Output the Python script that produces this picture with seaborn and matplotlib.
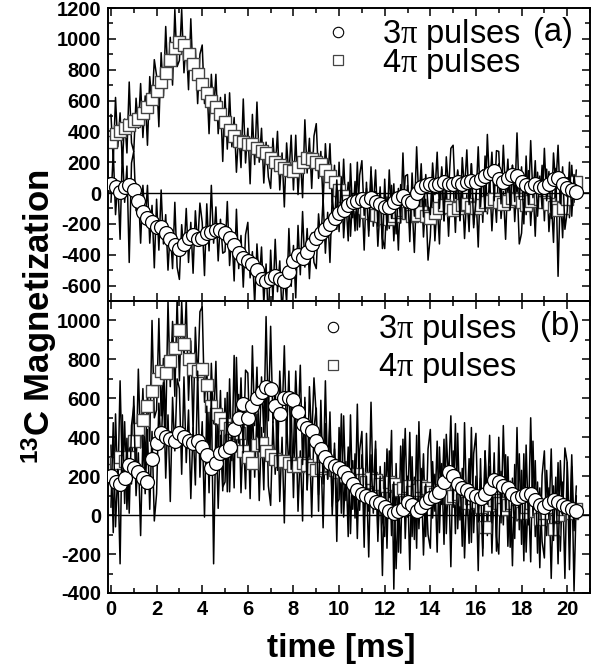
import numpy as np
import matplotlib
matplotlib.use("Agg")
import matplotlib.pyplot as plt
import seaborn as sns
from matplotlib.ticker import MultipleLocator

# ---------------- data ----------------
MARK_STEP = 0.2   # ms between plotted symbols
RAW_STEP = 0.1    # ms between raw samples

# panel (a) symbols
sq_a = [330, 380, 400, 420, 440, 470, 480, 520, 560, 610,
        660, 720, 780, 860, 940, 980, 960, 900, 840, 770,
        710, 650, 600, 560, 510, 460, 410, 370, 340, 330,
        320, 320, 290, 270, 260, 230, 200, 180, 160, 150,
        140, 170, 200, 230, 220, 200, 190, 150, 110, 70,
        20, -20, -50, -70, -80, -100, -120, -130, -140, -150,
        -160, -170, -150, -120, -110, -130, -150, -140, -120, -150,
        -160, -130, -100, -80, -90, -110, -100, -80, -70, -90,
        -100, -80, -60, -50, -40, -60, -70, -50, -30, -40,
        -60, -80, -50, -30, -40, -60, -70, -90, -110, -100,
        -40, 20, 70]
ci_a = [60, 40, 10, 40, 50, 20, -50, -120, -160, -190,
        -220, -220, -260, -300, -340, -360, -330, -290, -270, -300,
        -290, -260, -250, -240, -240, -260, -290, -340, -390, -420,
        -440, -460, -500, -560, -570, -550, -540, -560, -570, -510,
        -440, -400, -420, -380, -330, -290, -260, -230, -200, -160,
        -130, -110, -80, -60, -50, -40, -50, -30, -60, -70,
        -90, -90, -60, -30, -20, -50, -60, 0, 40, 50,
        60, 50, 60, 70, 60, 60, 70, 60, 70, 80,
        70, 90, 110, 130, 140, 90, 70, 100, 120, 110,
        70, 50, 40, 60, 40, 40, 60, 90, 100, 60,
        30, 20, 10]
# panel (b) symbols
sq_b = [230, 270, 300, 280, 300, 380, 440, 490, 560, 640,
        700, 740, 730, 790, 860, 950, 880, 800, 750, 740,
        750, 670, 560, 520, 500, 470, 450, 430, 420, 330,
        300, 270, 360, 370, 330, 310, 290, 280, 280, 270,
        250, 250, 270, 260, 240, 230, 240, 250, 260, 230,
        220, 200, 190, 200, 210, 180, 170, 190, 180, 160,
        150, 170, 160, 130, 140, 150, 120, 130, 150, 140,
        120, 110, 130, 120, 90, 100, 110, 80, 60, 90,
        70, 40, -60, 50, 80, 60, 30, 50, 60, 20,
        10, 40, 60, 20, -20, 10, 40, -70, 0, 30,
        40, 10, 30]
ci_b = [200, 170, 160, 190, 260, 240, 220, 190, 170, 290,
        370, 420, 400, 390, 380, 420, 400, 380, 370, 380,
        350, 310, 240, 270, 320, 330, 350, 440, 500, 570,
        500, 560, 600, 630, 660, 650, 560, 520, 600, 600,
        590, 530, 470, 450, 430, 380, 340, 300, 270, 250,
        240, 220, 190, 160, 130, 110, 100, 90, 70, 60,
        40, 20, 10, 20, 30, 70, 50, 20, 40, 70,
        90, 100, 120, 170, 220, 200, 160, 140, 130, 110,
        100, 90, 110, 140, 180, 170, 150, 140, 110, 90,
        100, 110, 110, 80, 50, 40, 60, 80, 70, 50,
        40, 30, 20]

# raw (noisy) traces
raw_sq_a = [510, 205, 620, 300, 520, 190, 480, 260, 720, 325,
            270, 615, 420, 710, 360, 630, 310, 755, 570, 865,
            760, 430, 910, 630, 1080, 740, 1010, 700, 1190, 820,
            860, 1190, 780, 980, 670, 1130, 740, 935, 580, 900,
            960, 580, 730, 385, 770, 530, 770, 385, 620, 205,
            640, 285, 650, 300, 490, 135, 400, 165, 610, 195,
            420, 60, 510, 185, 590, 200, 420, 65, 330, 105,
            30, 355, 140, 400, 20, 260, -90, 325, 110, 375,
            20, 375, -10, 235, -30, 475, 130, 355, 30, 370,
            450, 95, 270, -70, 320, 80, 320, -60, 180, -235,
            200, -150, 220, -125, 70, -280, -10, -245, 200, -220,
            0, -370, 70, -245, 170, -215, 10, -345, -80, -295,
            -360, -25, -230, 50, -310, -45, -370, 55, -150, 110,
            120, -240, -70, -385, 30, -180, 90, -285, -40, -435,
            -280, 75, -310, -65, -330, 170, -180, 45, -280, 60,
            70, -255, 140, -180, 40, -295, -10, -250, 190, -225,
            0, -350, 110, -190, 240, -135, 100, -245, 30, -190,
            190, -165, 10, -300, 120, -90, 180, -185, 70, -330,
            -260, 70, -140, 145, -210, 50, -280, 135, -80, 180,
            -180, 155, -250, -30, -320, 160, -540, 25, -290, 90,
            100, -160, 180, -60, 150]
raw_ci_a = [-60, 270, -140, 75, -300, 285, -60, 175, -450, 195,
            270, -115, 30, -325, 50, -190, 50, -325, -80, -485,
            -40, -370, 20, -330, -140, -500, -240, -490, -60, -480,
            -560, -205, -390, -100, -450, -190, -520, -115, -340, -65,
            -190, -535, -70, -375, 50, -325, -90, -440, -170, -390,
            -380, -55, -470, -265, -570, -105, -490, -275, -610, -270,
            -190, -550, -380, -720, -330, -580, -350, -715, -460, -840,
            -370, -695, -300, -640, -440, -785, -510, -710, -230, -605,
            -340, -680, -210, -530, -120, -480, -230, -555, -260, -450,
            -490, -135, -320, -35, -390, -125, -450, -10, -200, 85,
            -250, 100, -290, -45, -310, 190, -160, 75, -240, 115,
            210, -145, 30, -280, 140, -95, 150, -215, 40, -360,
            90, -240, 150, -165, 60, -265, 30, -195, 260, -165,
            50, -315, 130, -150, 300, -60, 190, -155, 120, -85,
            -140, 195, -10, 265, -100, 155, -180, 235, 20, 290,
            310, -35, 150, -175, 230, 15, 280, -75, 190, -205,
            -50, 300, -90, 150, -120, 380, 30, 265, -50, 275,
            270, -70, 310, -5, 220, -110, 180, -55, 390, -40,
            170, -200, 240, -75, 340, -30, 210, -150, 110, -100,
            290, -50, 140, -165, 260, 45, 310, -70, 170, -235,
            -120, 200, -150, 120, -30]
raw_sq_b = [360, -90, 520, 125, 690, 190, 480, 30, 390, 160,
            610, 210, 750, 345, 650, 235, 640, 380, 1000, 500,
            540, 1010, 510, 805, 430, 1100, 660, 995, 610, 1115,
            690, 1095, 800, 1110, 590, 895, 430, 965, 690, 1045,
            1070, 580, 770, 305, 780, 470, 790, 310, 640, 125,
            600, 120, 700, 280, 820, 325, 620, 115, 420, 135,
            530, 85, 580, 195, 520, 75, 450, 130, 690, 150,
            50, 480, 210, 555, 70, 400, -40, 495, 220, 560,
            90, 540, 20, 330, -30, 605, 130, 420, -10, 445,
            550, 105, 340, -65, 470, 185, 530, 45, 370, -135,
            450, 10, 510, 75, 350, -95, 280, -15, 570, 25,
            310, -165, 420, 20, 580, 85, 380, -90, 250, -25,
            -110, 340, 90, 435, -380, 265, -190, 355, 90, 445,
            -10, 425, -110, 195, -170, 480, 20, 315, -110, 340,
            440, -15, 210, -190, 350, 55, 390, -95, 230, -265,
            330, -95, 420, -25, 240, -220, 140, -145, 450, -90,
            200, -285, 290, -170, 330, -105, 250, -195, 170, -110,
            -200, 225, -50, 310, -160, 175, -260, 260, -30, 315,
            -150, 315, -190, 120, -240, 380, -110, 170, -270, 205,
            330, -105, 140, -325, 150, -105, 270, -185, 170, -325,
            270, -280, 250, -390, 100]
raw_ci_b = [40, 475, -60, 235, -250, 515, 60, 395, 10, 460,
            560, 100, 320, -105, 410, 110, 440, 30, 430, -30,
            110, 575, 340, 680, 190, 515, 70, 605, 330, 700,
            650, 210, 710, 270, 540, 85, 450, 155, 740, 195,
            480, -10, 560, 115, 630, -250, 470, 35, 410, 145,
            170, 630, 120, 465, 140, 810, 370, 705, 320, 745,
            730, 330, 870, 460, 760, 325, 710, 425, 1020, 485,
            970, 475, 660, 230, 740, 490, 870, 400, 740, 235,
            330, 740, 450, 770, 260, 580, 130, 660, 380, 705,
            510, 20, 590, 160, 690, 185, 470, 0, 340, 65,
            80, 520, -10, 275, -110, 515, 30, 315, -120, 330,
            430, -25, 200, -215, 310, 10, 340, -135, 200, -310,
            270, -170, 330, -105, 170, -275, 100, -195, 390, -120,
            200, -280, 300, -125, 410, -70, 240, -205, 160, -100,
            -170, 275, 20, 380, -90, 265, -150, 415, 170, 510,
            40, 470, -70, 220, -160, 475, 0, 290, -140, 315,
            420, -35, 190, -210, 330, 55, 410, -40, 320, -185,
            400, -40, 460, 25, 300, -165, 190, -120, 450, -75,
            230, -235, 360, -50, 500, -5, 280, -195, 140, -135,
            -220, 230, -20, 340, -130, 195, -250, 280, 0, 345,
            270, -100, 310, -80, 150]

legend_text = "3$\\mathrm{\\pi}$ pulses\n4$\\mathrm{\\pi}$ pulses"
panel_tags = ["(a)", "(b)"]
x_ticks = [0, 2, 4, 6, 8, 10, 12, 14, 16, 18, 20]
y_ticks_a = [-600, -400, -200, 0, 200, 400, 600, 800, 1000, 1200]
y_ticks_b = [-400, -200, 0, 200, 400, 600, 800, 1000]

# ---------------- style ----------------
sns.set_style("ticks")
plt.rcParams["font.family"] = ["Liberation Sans", "DejaVu Sans"]
plt.rcParams["mathtext.fontset"] = "custom"
plt.rcParams["mathtext.rm"] = "Liberation Serif"
plt.rcParams["mathtext.it"] = "Liberation Serif:italic"
plt.rcParams["mathtext.bf"] = "Liberation Sans:bold"
for key in ["text.color", "axes.labelcolor", "xtick.color", "ytick.color",
            "axes.edgecolor"]:
    plt.rcParams[key] = "black"

fig = plt.figure(figsize=(6.05, 6.70), dpi=100)
L, W = 108 / 605, 482 / 605
ax_a = fig.add_axes([L, (670 - 301) / 670, W, 293 / 670])
ax_b = fig.add_axes([L, (670 - 593) / 670, W, 292 / 670])

SQ_EDGE = "#444444"


def draw_panel(ax, raw_sq, raw_ci, sq, ci):
    t_raw_sq = np.arange(len(raw_sq)) * RAW_STEP
    t_raw_ci = np.arange(len(raw_ci)) * RAW_STEP
    t_sq = np.arange(len(sq)) * MARK_STEP
    t_ci = np.arange(len(ci)) * MARK_STEP
    ax.axhline(0, color="black", linewidth=1.0, zorder=0.5)
    sns.lineplot(x=t_raw_sq, y=raw_sq, ax=ax, color="black", linewidth=1.1,
                 estimator=None, sort=False, zorder=1)
    sns.scatterplot(x=t_sq, y=sq, ax=ax, marker="s", s=72, color="white",
                    edgecolor=SQ_EDGE, linewidth=1.0, zorder=2, legend=False)
    sns.lineplot(x=t_raw_ci, y=raw_ci, ax=ax, color="black", linewidth=1.1,
                 estimator=None, sort=False, zorder=2.5)
    sns.scatterplot(x=t_ci, y=ci, ax=ax, marker="o", s=100, color="white",
                    edgecolor="black", linewidth=0.9, zorder=3, legend=False)


draw_panel(ax_a, raw_sq_a, raw_ci_a, sq_a, ci_a)
draw_panel(ax_b, raw_sq_b, raw_ci_b, sq_b, ci_b)

for ax, yt, lim in [(ax_a, y_ticks_a, (-700, 1200)), (ax_b, y_ticks_b, (-400, 1100))]:
    ax.set_xlim(-0.13, 21.0)
    ax.set_ylim(*lim)
    ax.set_xticks(x_ticks, labels=[str(v) for v in x_ticks],
                  fontsize=14.5, fontweight="bold")
    ax.set_yticks(yt, labels=[str(v) for v in yt], fontsize=14.5, fontweight="bold")
    ax.xaxis.set_minor_locator(MultipleLocator(1))
    ax.yaxis.set_minor_locator(MultipleLocator(100))
    ax.tick_params(which="both", direction="in", top=True, right=True,
                   width=1.1, colors="black")
    ax.tick_params(which="major", length=6, pad=5)
    ax.tick_params(which="minor", length=3.5)
    for sp in ax.spines.values():
        sp.set_linewidth(1.4)
        sp.set_color("black")
    ax.set_xlabel("")
    ax.set_ylabel("")

ax_a.tick_params(labelbottom=False)

# legend-like annotations (marker + two-line label + panel tag)
legend_pos = {
    ax_a: dict(mx=0.477, my=(0.918, 0.823), tx=0.5685, ty=0.969, tagx=0.882,
               tagy=0.918, spacing=0.75),
    ax_b: dict(mx=0.467, my=(0.911, 0.781), tx=0.560, ty=0.962, tagx=0.896,
               tagy=0.911, spacing=1.10),
}
for ax, tag in zip([ax_a, ax_b], panel_tags):
    p = legend_pos[ax]
    ax.plot([p["mx"]], [p["my"][0]], transform=ax.transAxes, marker="o",
            markersize=7.5, markerfacecolor="white", markeredgecolor="black",
            markeredgewidth=0.8, linestyle="none", zorder=5, clip_on=False)
    ax.plot([p["mx"]], [p["my"][1]], transform=ax.transAxes, marker="s",
            markersize=6.8, markerfacecolor="white", markeredgecolor=SQ_EDGE,
            markeredgewidth=0.9, linestyle="none", zorder=5, clip_on=False)
    ax.text(p["tx"], p["ty"], legend_text, transform=ax.transAxes,
            fontsize=23.5, va="top", ha="left", zorder=6,
            linespacing=p["spacing"])
    ax.text(p["tagx"], p["tagy"], tag, transform=ax.transAxes, fontsize=23.5,
            va="center", ha="left", zorder=6)

fig.text(341 / 605, 1 - 648 / 670, "time [ms]", fontsize=24, fontweight="bold",
         ha="center", va="center")
fig.text(40 / 605, 1 - 317 / 670, r"$^{\mathbf{13}}$C Magnetization", fontsize=25,
         fontweight="bold", rotation=90, ha="center", va="center")

fig.savefig("out.png", dpi=100)
